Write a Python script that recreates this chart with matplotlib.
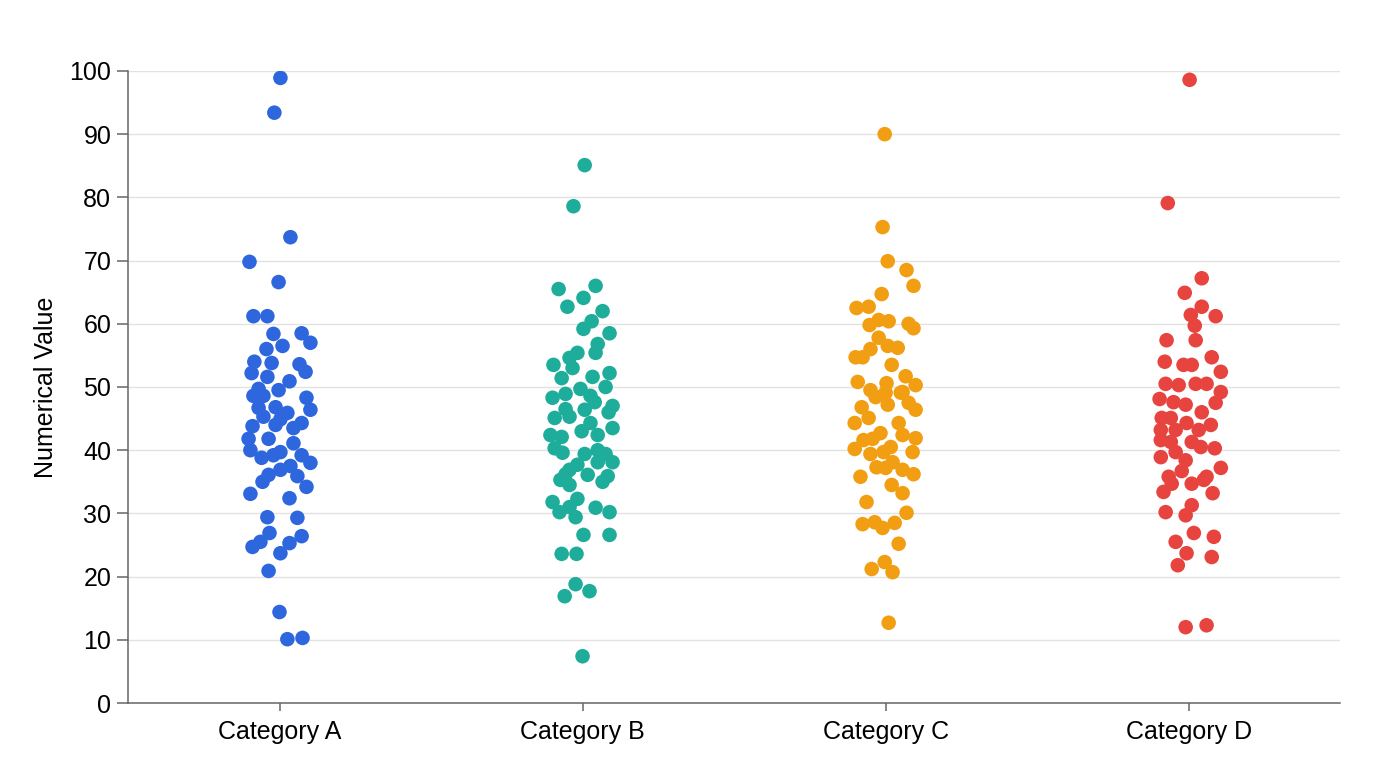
import matplotlib
matplotlib.use("Agg")
import matplotlib.pyplot as plt

plt.rcParams["font.family"] = ["Liberation Sans", "DejaVu Sans"]

categories = ["Category A", "Category B", "Category C", "Category D"]
colors = ["#2E66DE", "#1FAD9B", "#F29E12", "#E8443F"]

# values, with the horizontal jitter of each point (category units)
a_values = [98.9, 93.4, 73.7, 69.8, 66.6, 61.2, 61.2, 58.4, 58.5, 57.0, 56.5, 56.0,
            54.0, 53.8, 53.6, 52.4, 52.2, 51.6, 50.9, 49.7, 49.5, 48.6, 48.6, 48.3,
            46.7, 46.8, 46.4, 45.9, 45.3, 44.9, 43.8, 44.0, 43.5, 44.3, 41.8, 41.8,
            41.1, 40.0, 39.2, 39.7, 38.8, 39.2, 38.0, 37.5, 36.9, 36.1, 35.9, 35.0,
            34.2, 33.1, 32.4, 29.4, 29.3, 26.9, 26.4, 25.5, 24.7, 25.3, 23.7, 20.9,
            14.4, 10.1, 10.3]
a_jitter = [0.003, -0.017, 0.036, -0.099, -0.003, -0.086, -0.040, -0.020, 0.073, 0.102, 0.010, -0.043,
            -0.083, -0.026, 0.066, 0.086, -0.092, -0.040, 0.033, -0.069, -0.003, -0.086, -0.053, 0.089,
            -0.069, -0.013, 0.102, 0.026, -0.053, 0.003, -0.089, -0.013, 0.046, 0.073, -0.102, -0.036,
            0.046, -0.096, -0.020, 0.003, -0.059, 0.073, 0.102, 0.036, 0.003, -0.036, 0.059, -0.056,
            0.089, -0.096, 0.033, -0.040, 0.059, -0.033, 0.073, -0.063, -0.089, 0.033, 0.003, -0.036,
            0.000, 0.026, 0.076]

b_values = [85.1, 78.6, 65.5, 66.0, 64.1, 62.7, 62.0, 60.4, 59.2, 58.5, 56.8, 55.4,
            55.4, 54.6, 53.5, 53.0, 51.4, 51.6, 52.2, 50.0, 49.7, 48.9, 48.3, 48.6,
            47.6, 47.0, 46.4, 46.5, 45.1, 45.3, 46.0, 44.3, 43.0, 43.5, 42.4, 42.1,
            42.4, 40.3, 39.6, 39.4, 40.0, 39.4, 38.1, 38.1, 37.7, 36.9, 36.1, 36.2,
            35.9, 35.3, 35.0, 34.5, 31.8, 32.3, 30.2, 31.0, 29.4, 30.9, 30.2, 26.6,
            26.6, 23.6, 23.6, 18.8, 17.7, 16.9, 7.4]
b_jitter = [0.007, -0.030, -0.079, 0.043, 0.003, -0.050, 0.066, 0.030, 0.003, 0.089, 0.050, 0.043,
            -0.017, -0.043, -0.096, -0.033, -0.069, 0.033, 0.089, 0.076, -0.007, -0.056, -0.099, 0.026,
            0.040, 0.099, 0.007, -0.056, -0.092, -0.043, 0.086, 0.026, -0.003, 0.099, -0.106, -0.069,
            0.050, -0.092, -0.066, 0.007, 0.050, 0.076, 0.099, 0.050, -0.017, -0.043, 0.017, -0.056,
            0.083, -0.073, 0.066, -0.043, -0.099, -0.017, -0.076, -0.043, -0.023, 0.043, 0.089, 0.003,
            0.089, -0.069, -0.020, -0.023, 0.023, -0.059, 0.000]

c_values = [90.0, 75.3, 69.9, 68.5, 66.0, 64.7, 62.5, 62.7, 60.6, 60.4, 59.8, 60.0,
            59.3, 57.8, 56.0, 56.5, 56.2, 54.7, 54.7, 53.5, 51.7, 50.8, 50.3, 50.6,
            49.5, 49.2, 48.4, 48.7, 46.8, 47.2, 47.5, 49.1, 49.1, 46.4, 45.1, 44.3,
            44.3, 42.7, 42.4, 41.9, 41.6, 41.8, 40.2, 40.5, 39.7, 39.4, 39.7, 37.3,
            38.1, 37.2, 36.9, 36.2, 35.8, 34.5, 33.2, 31.8, 30.1, 28.3, 28.6, 27.7,
            28.5, 25.2, 22.3, 21.2, 20.7, 12.7]
c_jitter = [-0.003, -0.010, 0.007, 0.069, 0.092, -0.013, -0.096, -0.056, -0.023, 0.010, -0.053, 0.076,
            0.092, -0.023, -0.050, 0.007, 0.040, -0.099, -0.076, 0.020, 0.066, -0.092, 0.099, 0.003,
            -0.050, 0.056, -0.033, -0.007, -0.079, 0.007, 0.076, 0.000, 0.050, 0.099, -0.056, -0.102,
            0.043, -0.017, 0.056, 0.099, -0.073, -0.043, -0.102, 0.017, 0.089, -0.050, -0.007, -0.030,
            0.023, 0.000, 0.056, 0.092, -0.083, 0.020, 0.056, -0.063, 0.069, -0.076, -0.036, -0.010,
            0.030, 0.043, -0.003, -0.046, 0.023, 0.010]

d_values = [98.6, 79.1, 67.2, 64.9, 62.7, 61.4, 61.2, 59.7, 57.4, 57.4, 54.0, 54.7,
            53.5, 53.5, 52.4, 50.5, 50.3, 50.5, 50.5, 49.2, 48.1, 47.6, 47.2, 47.5,
            45.1, 45.1, 46.0, 44.3, 44.0, 43.2, 43.2, 43.2, 41.6, 41.3, 41.3, 40.5,
            40.3, 39.7, 38.9, 38.4, 37.2, 36.7, 35.8, 35.8, 34.7, 34.7, 35.3, 33.4,
            33.2, 30.2, 31.3, 29.7, 26.9, 26.3, 25.5, 23.7, 23.1, 21.8, 12.0, 12.3]
d_jitter = [0.003, -0.069, 0.043, -0.013, 0.043, 0.007, 0.089, 0.020, -0.073, 0.023, -0.079, 0.076,
            -0.017, 0.010, 0.106, -0.076, -0.033, 0.023, 0.059, 0.106, -0.096, -0.050, -0.010, 0.089,
            -0.089, -0.059, 0.043, -0.007, 0.073, -0.092, -0.043, 0.033, -0.092, -0.059, 0.010, 0.040,
            0.086, -0.043, -0.092, -0.010, 0.106, -0.023, 0.059, -0.066, -0.056, 0.010, 0.050, -0.083,
            0.079, -0.076, 0.010, -0.010, 0.017, 0.083, -0.043, -0.007, 0.076, -0.036, -0.010, 0.059]

all_values = [a_values, b_values, c_values, d_values]
all_jitter = [a_jitter, b_jitter, c_jitter, d_jitter]

fig = plt.figure(figsize=(13.76, 7.68), dpi=100)
ax = fig.add_axes([0.093, 0.0846, 0.881, 0.823])

for i, (vals, jit) in enumerate(zip(all_values, all_jitter)):
    xs = [i + j for j in jit]
    ax.scatter(xs, vals, s=110, color=colors[i], edgecolors="none", zorder=3)

ax.set_xlim(-0.5, 3.5)
ax.set_ylim(0, 100)
ax.set_yticks(range(0, 101, 10))
ax.set_xticks(range(len(categories)))
ax.set_xticklabels(categories)
ax.set_ylabel("Numerical Value", fontsize=18, labelpad=8)

ax.grid(axis="y", color="#e2e2e2", linewidth=1.0, zorder=0)
ax.set_axisbelow(True)
for side in ["top", "right"]:
    ax.spines[side].set_visible(False)
for side in ["left", "bottom"]:
    ax.spines[side].set_color("#666666")
    ax.spines[side].set_linewidth(1.1)
ax.tick_params(axis="y", length=8, width=1.1, color="#666666", pad=4, labelsize=18)
ax.tick_params(axis="x", length=6, width=1.1, color="#666666", pad=6, labelsize=18)

fig.savefig("out.png", dpi=100)
